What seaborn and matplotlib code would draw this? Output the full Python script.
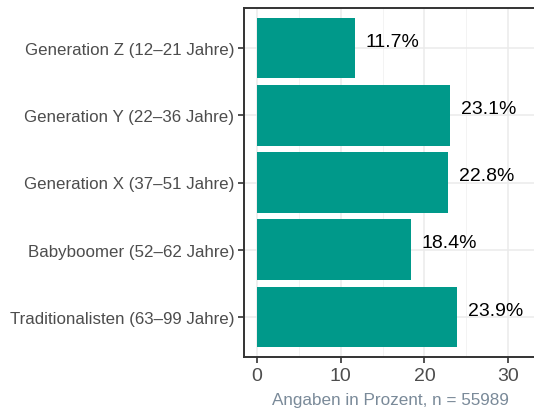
import matplotlib
matplotlib.use("Agg")
import matplotlib.pyplot as plt
import seaborn as sns
import pandas as pd
from matplotlib.ticker import MultipleLocator

categories = [
    "Generation Z (12\u201321 Jahre)",
    "Generation Y (22\u201336 Jahre)",
    "Generation X (37\u201351 Jahre)",
    "Babyboomer (52\u201362 Jahre)",
    "Traditionalisten (63\u201399 Jahre)",
]
values = [11.7, 23.1, 22.8, 18.4, 23.9]
labels = ["11.7%", "23.1%", "22.8%", "18.4%", "23.9%"]

df = pd.DataFrame({"cat": categories, "val": values})

sns.set_theme(style="white")
plt.rcParams["font.family"] = ["Liberation Sans", "DejaVu Sans"]

fig = plt.figure(figsize=(5.34, 4.10), dpi=100)
ax = fig.add_axes([244 / 534, 1 - 358 / 410, (536 - 244) / 534, (358 - 9) / 410])

sns.barplot(data=df, y="cat", x="val", orient="h", color="#00998A",
            width=0.9, saturation=1, ax=ax, zorder=3, linewidth=0, edgecolor="none")

for i, (v, t) in enumerate(zip(values, labels)):
    ax.text(v + 1.3, i - 0.1, t, ha="left", va="center", fontsize=14, color="black", zorder=4)

x0 = (244 - 257) / 8.37
x1 = x0 + (536 - 244) / 8.37
ax.set_xlim(x0, x1)
ax.set_ylim(4.6, -0.6)
ax.xaxis.set_major_locator(MultipleLocator(10))
ax.xaxis.set_minor_locator(MultipleLocator(5))
ax.grid(True, which="major", color="#EBEBEB", linewidth=1.1, zorder=0)
ax.grid(True, which="minor", axis="x", color="#F3F3F3", linewidth=0.7, zorder=0)
ax.set_axisbelow(True)

for s in ax.spines.values():
    s.set_visible(True)
    s.set_color("#333333")
    s.set_linewidth(1.4)

ax.tick_params(axis="both", which="major", length=4, width=1.2, color="#333333",
               labelcolor="#4D4D4D", bottom=True, left=True)
ax.tick_params(axis="y", labelsize=12.2, pad=3)
ax.tick_params(axis="x", labelsize=14, pad=3)
ax.tick_params(axis="x", which="minor", length=0)
ax.set_ylabel("")
ax.set_xlabel("Angaben in Prozent, n = 55989", color="#7A8A99", fontsize=12.3, labelpad=6)

fig.savefig("out.png", dpi=100)
